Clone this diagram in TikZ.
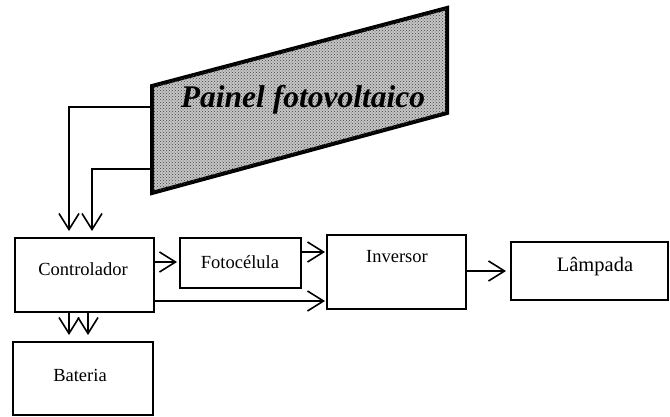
\documentclass[tikz,border=0pt]{standalone}
\usepackage{fontspec}
\setmainfont{Liberation Serif}
\usetikzlibrary{arrows.meta,patterns}
\tikzset{
  blk/.style={draw=black, line width=2pt, fill=white, inner sep=0pt},
  lbl/.style={font=\fontsize{18.5}{20}\selectfont, inner sep=0pt},
  conn/.style={line width=1.6pt, -{Straight Barb[length=16pt,width=20pt,line width=1.6pt]}},
  panelstyle/.style={draw=black, line width=4pt, line join=miter, fill=gray!45,
    postaction={pattern=crosshatch dots, pattern color=black!75}}
}
\begin{document}
\begin{tikzpicture}[x=1pt,y=-1pt]
\useasboundingbox (0,0) rectangle (670,416);
% panel
\coordinate (pTL) at (152,86);
\coordinate (pTR) at (447,8);
\coordinate (pBR) at (447,113);
\coordinate (pBL) at (152,193);
\draw[panelstyle] (pTL) -- (pTR) -- (pBR) -- (pBL) -- cycle;
\node[inner sep=0pt, font=\fontsize{31.5}{33}\selectfont\bfseries\itshape] (ptxt) at (303,100) {Painel fotovoltaico};
\coordinate (po1) at (150,107);
\coordinate (po2) at (150,169);
% boxes
\node[blk, minimum width=139pt, minimum height=74pt] (ctrl) at (84.5,275) {};
\node[lbl] (ctrlt) at (83,269) {Controlador};
\node[blk, minimum width=121pt, minimum height=50pt] (foto) at (240.5,263) {};
\node[lbl] (fotot) at (240,262) {Fotocélula};
\node[blk, minimum width=139pt, minimum height=74pt] (inv) at (396.5,272) {};
\node[lbl] (invt) at (397,257) {Inversor};
\node[blk, minimum width=157pt, minimum height=58pt] (lamp) at (589.5,271) {};
\node[lbl, font=\fontsize{20.5}{22}\selectfont] (lampt) at (595,267) {Lâmpada};
\node[blk, minimum width=140pt, minimum height=73pt] (bat) at (83,378.5) {};
\node[lbl] (batt) at (80,375) {Bateria};
% connectors
\draw[conn] (po1) -| (69,231);
\draw[conn] (po2) -| (92,231);
\draw[conn] (ctrl.east |- 0,262) -- (177,262);
\draw[conn] (ctrl.east |- 0,301) -- (325,301);
\draw[conn] (foto.east |- 0,252) -- (325,252);
\draw[conn] (inv.east |- 0,271) -- (506,271);
\draw[conn] (69,312) -- (69,335);
\draw[conn] (88,312) -- (88,335);
\end{tikzpicture}
\end{document}
